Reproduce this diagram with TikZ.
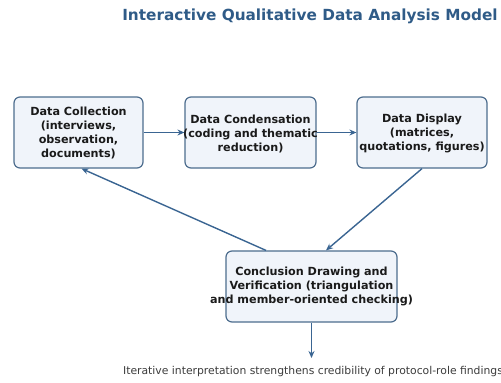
\documentclass[tikz,border=0pt]{standalone}
\usepackage{fontspec}
\setmainfont{DejaVu Sans}
\usetikzlibrary{arrows.meta}
\definecolor{titleblue}{HTML}{2F5B87}
\definecolor{boxfill}{HTML}{F0F4FA}
\definecolor{boxline}{HTML}{4D6D8E}
\definecolor{arrowblue}{HTML}{3A6592}
\definecolor{txt}{HTML}{1A1A1A}
\tikzset{
  stagebox/.style={draw=boxline, fill=boxfill, line width=1.2pt, rounded corners=6pt, minimum width=#1, minimum height=71pt, inner sep=0pt},
  stagetext/.style={text=txt, font=\bfseries\fontsize{11.2}{14}\selectfont, align=center, inner sep=0pt},
  flow/.style={draw=arrowblue, line width=1.4pt, -{Stealth[length=7pt,width=6pt]}},
}
\begin{document}
\begin{tikzpicture}[x=1pt,y=-1pt]
\useasboundingbox (0,0) rectangle (501,383);
\clip (0,0) rectangle (501,383);
\node[text=titleblue, font=\bfseries\fontsize{15.3}{18}\selectfont, anchor=center] (title) at (310,16) {Interactive Qualitative Data Analysis Model};

\node[stagebox=129pt] (dc) at (78.5,132.5) {};
\node[stagebox=131pt] (cond) at (250.5,132.5) {};
\node[stagebox=130pt] (disp) at (422,132.5) {};
\node[stagebox=171pt] (conc) at (311.5,286.5) {};

\node[stagetext] (dct) at (dc.center) {Data Collection\\(interviews,\\observation,\\documents)};
\node[stagetext] (condt) at ([yshift=-1pt]cond.center) {Data Condensation\\(coding and thematic\\reduction)};
\node[stagetext] (dispt) at ([yshift=-1pt]disp.center) {Data Display\\(matrices,\\quotations, figures)};
\node[stagetext] (conct) at (conc.center) {Conclusion Drawing and\\Verification (triangulation\\and member-oriented checking)};

\coordinate (out) at (311.5,358);
\draw[flow] (dc.east) -- (cond.west);
\draw[flow] (cond.east) -- (disp.west);
\draw[flow] ([xshift=0pt]disp.south) -- ([xshift=14.5pt]conc.north);
\draw[flow] ([xshift=-45.5pt]conc.north) -- ([xshift=3pt]dc.south);
\draw[flow] (conc.south) -- (out);

\node[text=txt!85, font=\fontsize{10.8}{13}\selectfont] (foot) at (313,372) {Iterative interpretation strengthens credibility of protocol-role findings};
\end{tikzpicture}
\end{document}
